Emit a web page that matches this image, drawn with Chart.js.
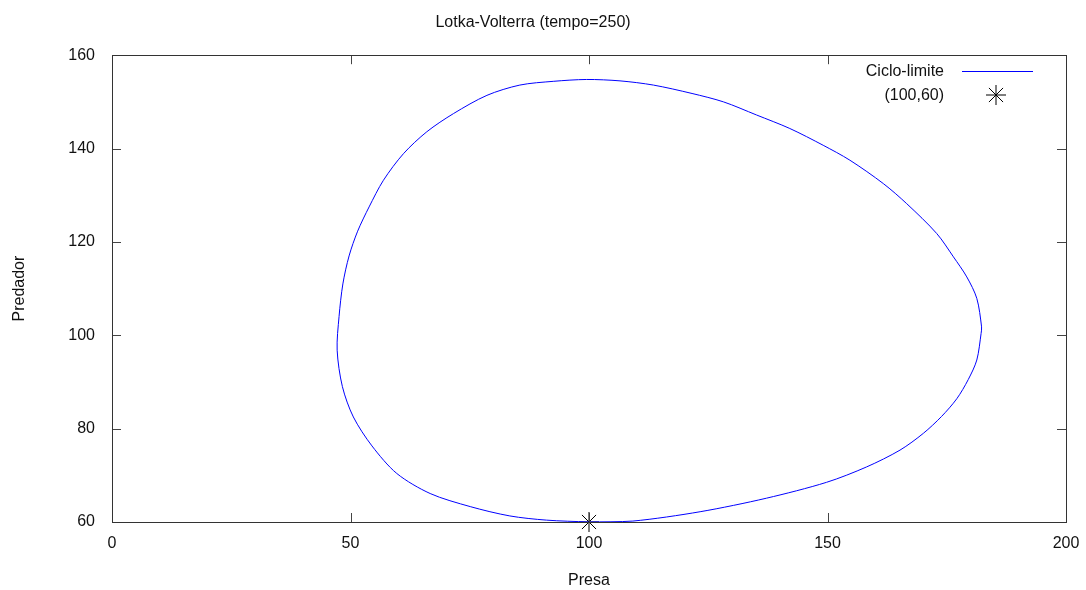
<!DOCTYPE html>
<html>
<head>
<meta charset="utf-8">
<script src="https://cdn.jsdelivr.net/npm/chart.js@4"></script>
<style>
  html, body { margin: 0; padding: 0; background: #fff; }
  #wrap { width: 1086px; height: 590px; }
</style>
</head>
<body>
<div id="wrap"><canvas id="myChart"></canvas></div>
<script>
const ctx = document.getElementById('myChart');

// orbita, partindo de (100,60)
const presa = [100, 109.2, 123.3, 137.2, 149.8, 158.2, 165.2, 170.1, 173.9, 177.1, 179.5, 181.3, 182.2, 182.3,
  181.3, 179.2, 176.4, 172.9, 166.6, 161.7, 154.7, 149.1, 142.1, 135.1, 128.2, 121.6, 113.5, 106.5, 99.5,
  92.5, 85.5, 78.6, 71.6, 66.0, 61.1, 56.9, 53.9, 51.5, 49.7, 48.4, 47.6, 47.2, 48.3, 50.6, 54.5, 59.7,
  66.7, 75.1, 83.4, 91.1, 100]
const predador = [60, 60.2, 62.2, 65.1, 68.5, 71.8, 75.4, 79.0, 82.6, 86.4, 90.5, 94.7, 100.4, 101.8,
  107.9, 112.5, 116.8, 121.8, 128.2, 132.5, 137.5, 140.7, 144.3, 147.2, 150.0, 151.8, 153.6, 154.5, 154.8,
  154.4, 153.6, 151.4, 147.5, 143.6, 138.9, 133.2, 127.5, 122.3, 117.0, 111.0, 104.0, 96.8, 89.0, 82.5,
  76.3, 70.4, 66.1, 63.3, 61.3, 60.4, 60]

const equilibrio = { x: 100, y: 60 }
const legendas = ['Ciclo-limite', '(100,60)']

const xTicks = [0, 50, 100, 150, 200]
const yTicks = [60, 80, 100, 120, 140, 160]

const FONT = '"Liberation Sans", Arial, sans-serif'
const TXT = '#111'

const pontos = presa.map((p, i) => ({ x: p, y: predador[i] }))

// ticks para dentro + moldura, estilo gnuplot
const moldura = {
  id: 'moldura',
  afterDraw(chart) {
    const c = chart.ctx
    const a = chart.chartArea
    const sx = chart.scales.x, sy = chart.scales.y
    c.save()
    c.strokeStyle = '#444'
    c.lineWidth = 1
    c.beginPath()
    xTicks.forEach(v => {
      const px = Math.round(sx.getPixelForValue(v)) + 0.5
      c.moveTo(px, a.bottom); c.lineTo(px, a.bottom - 9)
      c.moveTo(px, a.top); c.lineTo(px, a.top + 9)
    })
    yTicks.forEach(v => {
      const py = Math.round(sy.getPixelForValue(v)) + 0.5
      c.moveTo(a.left, py); c.lineTo(a.left + 9, py)
      c.moveTo(a.right, py); c.lineTo(a.right - 9, py)
    })
    c.stroke()
    c.strokeStyle = '#333'
    c.strokeRect(Math.round(a.left) + 0.5, Math.round(a.top) + 0.5,
      Math.round(a.right - a.left), Math.round(a.bottom - a.top))
    c.restore()
  }
}

// legenda com o texto a esquerda do simbolo
const legenda = {
  id: 'legenda',
  afterDraw(chart) {
    const c = chart.ctx
    c.save()
    c.font = '16px ' + FONT
    c.fillStyle = TXT
    c.textAlign = 'right'
    c.textBaseline = 'middle'
    c.fillText(legendas[0], 944, 72)
    c.fillText(legendas[1], 944, 96)
    c.strokeStyle = 'rgb(0,0,255)'
    c.lineWidth = 1
    c.beginPath()
    c.moveTo(962, 71.5); c.lineTo(1033, 71.5)
    c.stroke()
    c.strokeStyle = '#000'
    Chart.helpers.drawPoint(c, { pointStyle: 'star', radius: 10, rotation: 0, borderWidth: 1 }, 996, 95)
    c.restore()
  }
}

let myChart = new Chart(ctx, {
  type: 'scatter',
  data: {
    datasets: [{
      label: legendas[0],
      data: pontos,
      showLine: true,
      borderColor: 'rgb(0,0,255)',
      borderWidth: 1,
      tension: 0.3,
      pointRadius: 0,
      clip: false
    }, {
      label: legendas[1],
      data: [equilibrio],
      pointStyle: 'star',
      pointRadius: 10,
      borderColor: '#000',
      borderWidth: 1,
      clip: false
    }]
  },
  options: {
    responsive: true,
    maintainAspectRatio: false,
    animation: false,
    layout: { padding: { left: 0, right: 20, top: 0, bottom: 0 } },
    plugins: {
      legend: { display: false },
      tooltip: { enabled: false },
      title: {
        display: true,
        text: 'Lotka-Volterra (tempo=250)',
        color: TXT,
        font: { family: FONT, size: 16, weight: 'normal' },
        padding: { top: 13, bottom: 23 }
      }
    },
    scales: {
      x: {
        type: 'linear',
        min: 0, max: 200,
        afterBuildTicks: s => { s.ticks = xTicks.map(v => ({ value: v })) },
        afterFit: s => { s.height = 68; s.paddingRight = 0; s.paddingLeft = 0 },
        grid: { display: false, drawTicks: false },
        border: { display: false },
        ticks: { color: TXT, padding: 12, font: { family: FONT, size: 16 } },
        title: { display: true, text: 'Presa', color: TXT, font: { family: FONT, size: 16 }, padding: { top: 0, bottom: 0 } }
      },
      y: {
        type: 'linear',
        min: 60, max: 160,
        afterBuildTicks: s => { s.ticks = yTicks.map(v => ({ value: v })) },
        afterFit: s => { s.width = 112 },
        grid: { display: false, drawTicks: false },
        border: { display: false },
        ticks: { color: TXT, padding: 17, font: { family: FONT, size: 16 } },
        title: { display: true, text: 'Predador', color: TXT, font: { family: FONT, size: 16 }, padding: { top: 10, bottom: 0 } }
      }
    }
  },
  plugins: [moldura, legenda]
})
</script>
</body>
</html>
